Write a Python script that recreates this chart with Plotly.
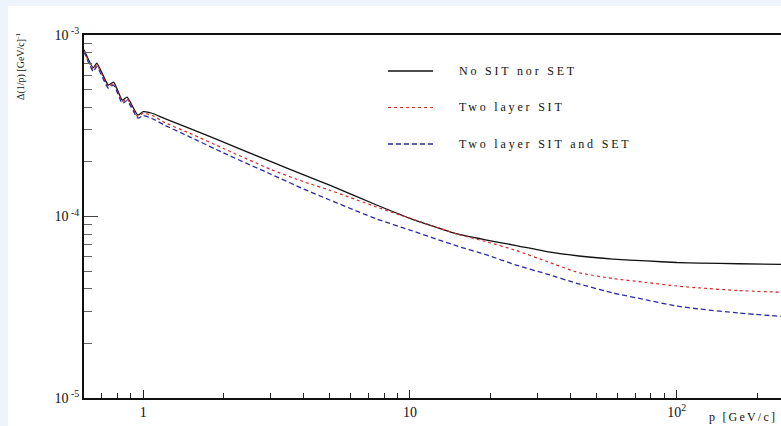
import plotly.graph_objects as go

# Momentum resolution vs. momentum for three tracker configurations
p_values = [0.60, 0.65, 0.67, 0.74, 0.775, 0.835, 0.87, 0.955, 1.0, 1.05, 1.1, 1.2, 1.5,
            2.0, 3.0, 4.0, 5.0, 7.5, 10, 15, 19.4, 25, 32.6, 43, 57.7, 77, 100, 122, 170, 250]

res_no_sit_set = [8.3e-4, 6.6e-4, 7.0e-4, 5.3e-4, 5.5e-4, 4.38e-4, 4.54e-4, 3.62e-4, 3.78e-4,
                  3.75e-4, 3.67e-4, 3.47e-4, 3.05e-4, 2.57e-4, 2.01e-4, 1.697e-4, 1.488e-4,
                  1.157e-4, 9.77e-5, 8.01e-5, 7.42e-5, 6.92e-5, 6.41e-5, 6.06e-5, 5.83e-5,
                  5.69e-5, 5.58e-5, 5.54e-5, 5.49e-5, 5.45e-5]

res_two_layer_sit = [8.2e-4, 6.45e-4, 6.85e-4, 5.2e-4, 5.4e-4, 4.3e-4, 4.45e-4, 3.55e-4, 3.72e-4,
                     3.65e-4, 3.56e-4, 3.30e-4, 2.87e-4, 2.37e-4, 1.82e-4, 1.553e-4, 1.396e-4,
                     1.128e-4, 9.77e-5, 8.01e-5, 7.25e-5, 6.50e-5, 5.65e-5, 4.90e-5, 4.55e-5,
                     4.33e-5, 4.14e-5, 4.04e-5, 3.91e-5, 3.82e-5]

res_two_layer_sit_set = [8.1e-4, 6.3e-4, 6.7e-4, 5.1e-4, 5.3e-4, 4.2e-4, 4.35e-4, 3.48e-4, 3.60e-4,
                         3.53e-4, 3.42e-4, 3.19e-4, 2.74e-4, 2.24e-4, 1.714e-4, 1.417e-4, 1.233e-4,
                         9.69e-5, 8.42e-5, 6.88e-5, 6.14e-5, 5.40e-5, 4.82e-5, 4.25e-5, 3.79e-5,
                         3.47e-5, 3.21e-5, 3.09e-5, 2.94e-5, 2.81e-5]

series_names = ["No SIT nor SET", "Two layer SIT", "Two layer SIT and SET"]
series_colors = ["#111111", "#d42a2a", "#2a2aa8"]
series_dash = ["solid", "dot", "5px,3px"]
series_width = [1.3, 1.2, 1.3]

x_major = [1, 10, 100]
x_major_text = ["1", "10", "10<sup>2</sup>"]
x_minor = [0.6, 0.7, 0.8, 0.9, 2, 3, 4, 5, 6, 7, 8, 9, 20, 30, 40, 50, 60, 70, 80, 90, 200]
y_major = [1e-5, 1e-4, 1e-3]
y_major_text = ["10<sup> -5</sup>", "10<sup> -4</sup>", "10<sup> -3</sup>"]
y_minor = [2e-5, 3e-5, 4e-5, 5e-5, 6e-5, 7e-5, 8e-5, 9e-5,
           2e-4, 3e-4, 4e-4, 5e-4, 6e-4, 7e-4, 8e-4, 9e-4]

SERIF = "Liberation Serif, DejaVu Serif, serif"

fig = go.Figure()
for name, ys, col, dash, wd in zip(series_names,
                                   [res_no_sit_set, res_two_layer_sit, res_two_layer_sit_set],
                                   series_colors, series_dash, series_width):
    fig.add_trace(go.Scatter(
        x=p_values, y=ys, mode="lines", name=name,
        line=dict(color=col, width=wd, dash=dash, shape="spline", smoothing=0.5),
        showlegend=False, hoverinfo="skip"))

W, H = 781, 426
L, R, T, B = 84, 0, 35, 28
pw, ph = W - L - R, H - T - B


def px_x(px):
    return (px - L) / pw


def px_y(py):
    return 1 - (py - T) / ph


# white sheet on the light-blue page
fig.add_shape(type="rect", xref="paper", yref="paper",
              x0=px_x(8), x1=1.0, y0=px_y(H + 2), y1=px_y(6),
              fillcolor="white", line_width=0, layer="below")

# legend drawn as sample lines with labels
legend_rows = [71, 107.5, 144]
for name, col, dash, wd, row in zip(series_names, series_colors, series_dash,
                                    series_width, legend_rows):
    fig.add_shape(type="line", xref="paper", yref="paper",
                  x0=px_x(388), x1=px_x(433), y0=px_y(row), y1=px_y(row),
                  line=dict(color=col, width=wd, dash=dash))
    fig.add_annotation(xref="paper", yref="paper", x=px_x(457), y=px_y(row),
                       xanchor="left", yanchor="middle", showarrow=False,
                       text=name, font=dict(family=SERIF, size=12, color="#111"))

fig.add_annotation(xref="paper", yref="paper", x=px_x(707), y=px_y(417),
                   xanchor="left", yanchor="middle", showarrow=False,
                   text="p [GeV/c]", font=dict(family=SERIF, size=12, color="#111"))
fig.add_annotation(xref="paper", yref="paper", x=px_x(21), y=px_y(66),
                   xanchor="center", yanchor="middle", showarrow=False, textangle=-90,
                   text="Δ(1/p) [GeV/c]<sup>-1</sup>",
                   font=dict(family=SERIF, size=10, color="#111"))

fig.update_xaxes(type="log", range=[-0.2218, 2.3907],
                 showline=True, linecolor="#111", linewidth=2, mirror=True,
                 showgrid=False, zeroline=False,
                 tickmode="array", tickvals=x_major, ticktext=x_major_text,
                 ticks="inside", ticklen=8, tickwidth=1, tickcolor="#222",
                 tickfont=dict(family=SERIF, size=14, color="#111"),
                 minor=dict(tickvals=x_minor, ticks="inside", ticklen=5,
                            tickwidth=1, tickcolor="#222", showgrid=False))
fig.update_yaxes(type="log", range=[-5, -3],
                 showline=True, linecolor="#111", linewidth=2, mirror=False,
                 showgrid=False, zeroline=False,
                 tickmode="array", tickvals=y_major, ticktext=y_major_text,
                 ticks="inside", ticklen=14, tickwidth=1, tickcolor="#444",
                 tickfont=dict(family=SERIF, size=14, color="#111"),
                 minor=dict(tickvals=y_minor, ticks="inside", ticklen=8,
                            tickwidth=1, tickcolor="#666", showgrid=False))

fig.update_layout(width=W, height=H,
                  margin=dict(l=L, r=R, t=T, b=B, pad=0),
                  paper_bgcolor="#edf4fc", plot_bgcolor="white",
                  showlegend=False)

# loosen the letter spacing of the legend labels and the x title,
# keeping each label's left edge where it was placed
spacing_js = """
var gd = document.getElementById('{plot_id}');
function loosen() {
  gd.querySelectorAll('.annotation').forEach(function (g) {
    var i = g.getAttribute('data-index');
    var t = g.querySelector('text');
    if (!t || i === '4' || t.getAttribute('data-loose')) { return; }
    var b0 = t.getBBox();
    t.style.letterSpacing = (i === '3') ? '2.2px' : '2.8px';
    var b1 = t.getBBox();
    t.setAttribute('transform', 'translate(' + (b0.x - b1.x) + ',0)');
    t.setAttribute('data-loose', '1');
  });
}
loosen();
gd.on('plotly_afterplot', loosen);
"""

fig.write_html("out.html", post_script=spacing_js)
